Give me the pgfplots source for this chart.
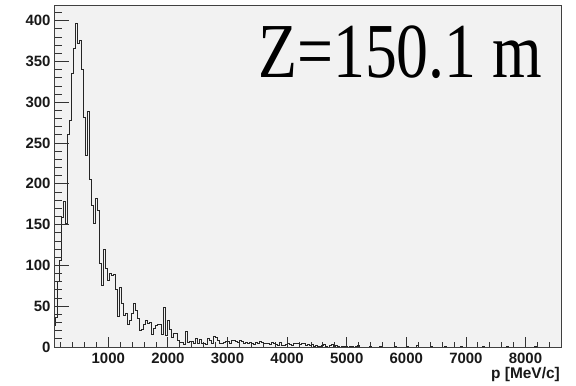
\documentclass[border=0pt]{standalone}
\usepackage{pgfplots}
\usepackage{pgfplotstable}
\pgfplotsset{compat=1.18}
\usepackage{fontspec}
\setmainfont{Liberation Sans}
\newfontfamily\timesfont{Liberation Serif}
\pgfplotstableread{
p v
80 26
113.6 36
147.2 80
180.8 106
214.4 159
248 178
281.6 151
315.2 261
348.8 278
382.4 335
416 366
449.6 397
483.2 372
516.8 376
550.4 340
584 282
617.6 235
651.2 289
684.8 205
718.4 174
752 151
785.6 182
819.2 167
852.8 102
886.4 75
920 120
953.6 96
987.2 82
1020.8 90
1054.4 88
1088 89
1121.6 71
1155.2 37
1188.8 73
1222.4 53
1256 39
1289.6 41
1323.2 28
1356.8 33
1390.4 41
1424 54
1457.6 45
1491.2 35
1524.8 20
1558.4 22
1592 28
1625.6 32
1659.2 29
1692.8 30
1726.4 16
1760 23
1793.6 26
1827.2 28
1860.8 28
1894.4 16
1928 48
1961.6 14
1995.2 33
2028.8 22
2062.4 12
2096 17
2129.6 17
2163.2 8
2196.8 6
2230.4 6
2264 3
2297.6 19
2331.2 6
2364.8 7
2398.4 7
2432 5
2465.6 10
2499.2 4
2532.8 9
2566.4 4
2600 4
2633.6 3
2667.2 10
2700.8 8
2734.4 4
2768 13
2801.6 12
2835.2 8
2868.8 5
2902.4 5
2936 6
2969.6 7
3003.2 7
3036.8 5
3070.4 8
3104 8
3137.6 7
3171.2 6
3204.8 8
3238.4 7
3272 4
3305.6 6
3339.2 5
3372.8 6
3406.4 4
3440 3
3473.6 6
3507.2 5
3540.8 7
3574.4 6
3608 5
3641.6 4
3675.2 4
3708.8 3
3742.4 6
3776 5
3809.6 3
3843.2 2
3876.8 6
3910.4 2
3944 2
3977.6 3
4011.2 5
4044.8 3
4078.4 2
4112 4
4145.6 5
4179.2 4
4212.8 3
4246.4 5
4280 4
4313.6 2
4347.2 3
4380.8 2
4414.4 3
4448 1
4481.6 2
4515.2 1
4548.8 1
4582.4 2
4616 3
4649.6 1
4683.2 0
4716.8 2
4750.4 3
4784 0
4817.6 2
4851.2 1
4884.8 0
4918.4 1
4952 1
4985.6 1
5019.2 0
5052.8 1
5086.4 1
5120 0
5153.6 1
5187.2 2
5220.8 0
5388.8 1
5422.4 0
5556.8 1
5590.4 0
5792 1
5825.6 0
5993.6 1
6027.2 0
6161.6 2
6195.2 0
6396.8 1
6430.4 0
6632 1
6665.6 0
6900.8 1
6934.4 0
7270.4 1
7304 0
7673.6 1
7707.2 0
8144 1
8177.6 0
8614.4 0
}\histdata
\begin{document}
\begin{tikzpicture}[x=1bp,y=1bp]
\path[use as bounding box, fill=white] (0,0) rectangle (576,385);
\begin{axis}[
  at={(54bp,38bp)}, anchor=south west,
  scale only axis, width=507bp, height=341bp,
  xmin=89, xmax=8596, ymin=0, ymax=418,
  axis background/.style={fill=black!5},
  axis line style={black!75, line width=1bp},
  xtick={1000,2000,...,8000},
  minor xtick={200,400,...,8600},
  ytick=\empty,
  xtick pos=bottom,
  tick align=inside,
  major tick length=10bp, minor tick length=5bp,
  every tick/.style={black!80, line width=0.8bp},
  /pgf/number format/1000 sep={},
  /pgf/number format/assume math mode=true,
  xticklabel style={font=\bfseries\fontsize{15}{15}\selectfont, black!90, yshift=-3bp},
  clip=true,
]
\addplot[const plot, black!85, line width=0.8bp] table[x=p, y=v] {\histdata};
\end{axis}
\begin{axis}[
  at={(54bp,38bp)}, anchor=south west,
  scale only axis, width=507bp, height=341bp,
  xmin=89, xmax=8596, ymin=0, ymax=418,
  axis line style={black!75, line width=1bp},
  xtick=\empty,
  ytick={0,50,...,400},
  minor ytick={10,20,...,410},
  ytick pos=left,
  tick align=inside,
  major tick length=15bp, minor tick length=7.5bp,
  every tick/.style={black!80, line width=0.8bp},
  /pgf/number format/assume math mode=true,
  yticklabel style={font=\bfseries\fontsize{15}{15}\selectfont, black!90},
]
\end{axis}
\node[anchor=base east, inner sep=0, font=\bfseries\fontsize{15.5}{15.5}\selectfont, black!90] at (560,6.5) {p [MeV/c]};
\node[anchor=base west, inner sep=0, yscale=1.22, font=\timesfont\fontsize{64}{64}\selectfont] at (258,308) {Z=150.1 m};
\end{tikzpicture}
\end{document}
